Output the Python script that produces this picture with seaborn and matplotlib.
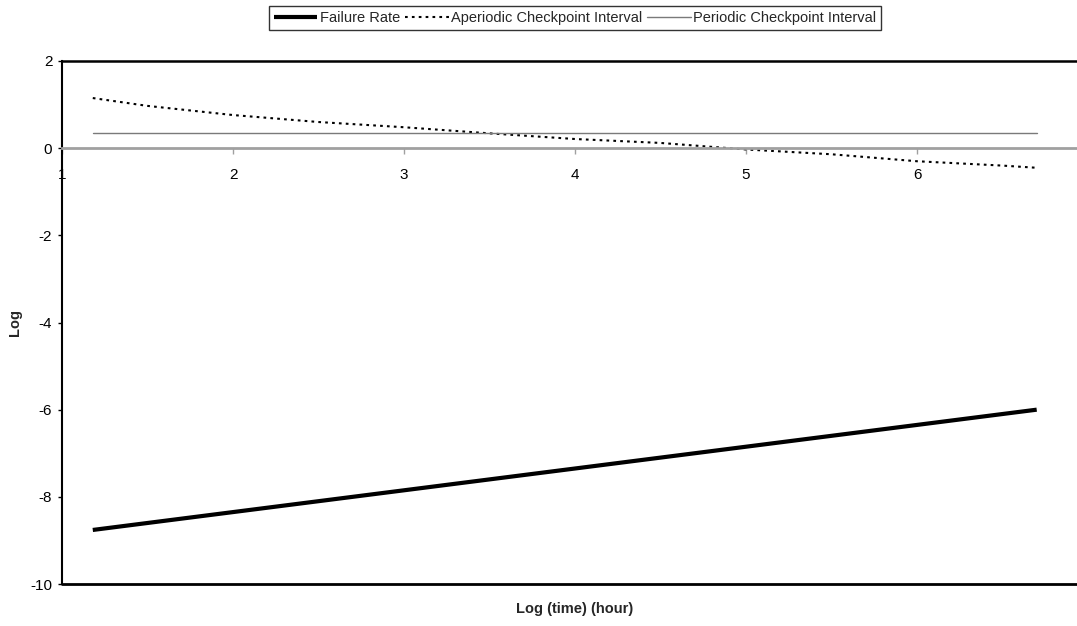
import matplotlib
matplotlib.use("Agg")
import matplotlib.pyplot as plt
import seaborn as sns
import pandas as pd

# ---- data ----
log_time = [1.18, 1.5, 2.0, 2.5, 3.0, 3.5, 4.0, 4.5, 5.0, 5.5, 6.0, 6.5, 6.7]
failure_rate = [-8.76, -8.60, -8.35, -8.10, -7.85, -7.60, -7.35, -7.10, -6.85, -6.60, -6.35, -6.10, -6.00]
aperiodic = [1.15, 0.97, 0.76, 0.60, 0.48, 0.34, 0.21, 0.12, -0.03, -0.14, -0.30, -0.40, -0.45]
periodic = [0.34] * len(log_time)
series_names = ["Failure Rate", "Aperiodic Checkpoint Interval", "Periodic Checkpoint Interval"]
x_ticks = [1, 2, 3, 4, 5, 6]
y_ticks = [-10, -8, -6, -4, -2, 0, 2]

sns.set_theme(style="white")
plt.rcParams["font.family"] = ["Liberation Sans", "DejaVu Sans"]

W, H = 1077, 626
fig = plt.figure(figsize=(W / 100, H / 100), dpi=100)
# axes spans x = 1..7 (the right part is cropped by the figure edge)
left_px, right_px, top_px, bot_px = 62, 1088, 61, 584
ax = fig.add_axes([left_px / W, 1 - bot_px / H, (right_px - left_px) / W, (bot_px - top_px) / H])

df = pd.DataFrame({"x": log_time, "fr": failure_rate, "ap": aperiodic, "pe": periodic})

sns.lineplot(data=df, x="x", y="fr", ax=ax, color="black", linewidth=3.0,
             label=series_names[0], solid_capstyle="butt")
sns.lineplot(data=df, x="x", y="ap", ax=ax, color="black", linewidth=1.5,
             linestyle=(0, (1.3, 2.0)), label=series_names[1])
sns.lineplot(data=df, x="x", y="pe", ax=ax, color="#7a7a7a", linewidth=1.0,
             label=series_names[2])

ax.set_xlim(1, 7)
ax.set_ylim(-10, 2)
ax.set_xticks(x_ticks)
ax.set_xticklabels([str(t) for t in x_ticks])
ax.set_yticks(y_ticks)
ax.set_yticklabels([str(t) for t in y_ticks])

# spines: x axis crosses at y=0 (gray); frame top/left black, bottom black line at -10
ax.spines["bottom"].set_position(("data", 0))
ax.spines["bottom"].set_color("#a0a0a0")
ax.spines["bottom"].set_linewidth(2.0)
ax.spines["left"].set_color("black")
ax.spines["left"].set_linewidth(1.5)
ax.spines["top"].set_color("black")
ax.spines["top"].set_linewidth(1.8)
ax.spines["right"].set_visible(False)
ax.plot([0, 1], [0, 0], transform=ax.transAxes, color="black", linewidth=2.0,
        clip_on=False, zorder=5)

ax.tick_params(axis="x", direction="out", length=4, width=1, color="#a0a0a0",
               pad=10, labelsize=11, labelcolor="black", bottom=True)
ax.tick_params(axis="y", direction="out", length=3, width=1, color="black",
               pad=4, labelsize=11, labelcolor="black", left=True)
for lab in ax.get_xticklabels():
    lab.set_zorder(6)

ax.set_xlabel("")
ax.set_ylabel("")
fig.text((62 + 1088) / 2 / W, 1 - 609 / H, "Log (time) (hour)", ha="center", va="center",
         fontsize=10.5, fontweight="bold")
fig.text(15 / W, 1 - 322 / H, "Log", ha="center", va="center", rotation=90,
         fontsize=10.5, fontweight="bold")

ax.legend_.remove() if ax.legend_ else None
handles, labels = ax.get_legend_handles_labels()
leg = fig.legend(handles, labels, loc="center", bbox_to_anchor=(575 / W, 1 - 18 / H),
                 ncol=3, frameon=True, fancybox=False, fontsize=10.5,
                 handlelength=3.0, handletextpad=0.15, columnspacing=0.35,
                 borderpad=0.35, borderaxespad=0)
leg.get_frame().set_edgecolor("black")
leg.get_frame().set_linewidth(1.0)

fig.savefig("out.png", dpi=100)
